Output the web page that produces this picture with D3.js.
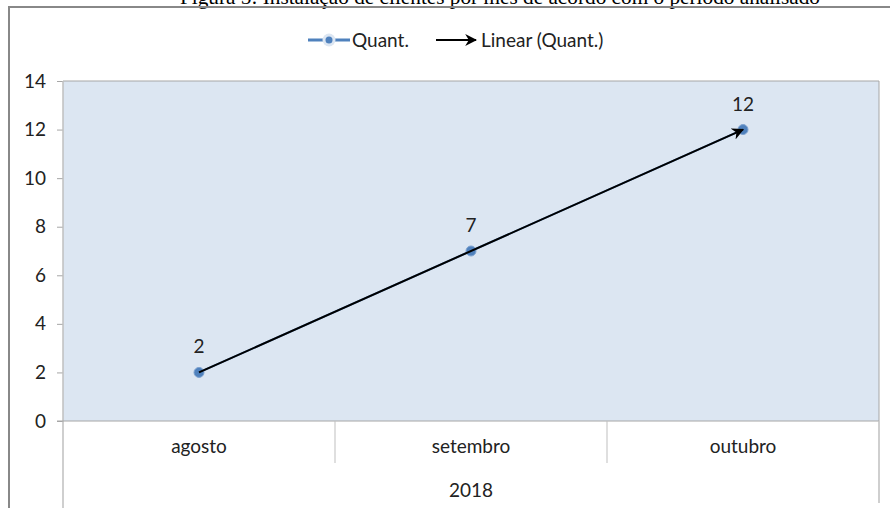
<!DOCTYPE html>
<html><head><meta charset="utf-8">
<script src="https://cdn.jsdelivr.net/npm/d3@7"></script>
<style>body{margin:0;background:#fff}svg{display:block}</style>
</head><body>
<svg id="c" width="890" height="508"></svg>
<script>
const categories = ["agosto", "setembro", "outubro"];
const groupLabel = "2018";
const quant = [2, 7, 12];
const yTicks = [0, 2, 4, 6, 8, 10, 12, 14];
const seriesName = "Quant.";
const trendName = "Linear (Quant.)";
const caption = "Figura 5: Instalação de clientes por mês de acordo com o período analisado";

const svg = d3.select("#c");
const font = "Lato, 'Open Sans', sans-serif";
const fs = 19;
const L = 63, R = 879, T = 81, B = 421;

// caption (clipped at top, as in the source)
svg.append("text").attr("x", 180).attr("y", 4).attr("text-anchor", "start")
  .attr("font-family", "'Liberation Serif', serif").attr("font-size", 21).attr("fill", "#000")
  .attr("textLength", 640).attr("lengthAdjust", "spacingAndGlyphs")
  .text(caption);

// outer chart border
svg.append("path").attr("d", "M9,508 V7 H890").attr("fill", "none").attr("stroke", "#888").attr("stroke-width", 2);

const x = d3.scaleBand().domain(categories).range([L, R]);
const y = d3.scaleLinear().domain([0, 14]).range([B, T]);

// plot area
svg.append("rect").attr("x", L).attr("y", T).attr("width", R - L).attr("height", B - T)
  .attr("fill", "#DCE6F2");
svg.append("path").attr("d", `M${L},${T} H${R} V${B}`).attr("fill", "none").attr("stroke", "#A6A6A6").attr("stroke-width", 1);

// y axis
const ya = svg.append("g").attr("transform", `translate(${L},0)`)
  .call(d3.axisLeft(y).tickValues(yTicks).tickSize(6).tickPadding(11).tickFormat(d3.format("d")));
ya.select(".domain").remove();
ya.selectAll("line").attr("stroke", "#A6A6A6");
ya.selectAll("text").attr("font-family", font).attr("font-size", fs).attr("fill", "#222");
svg.append("line").attr("x1", L).attr("x2", L).attr("y1", T).attr("y2", 508).attr("stroke", "#BFBFBF").attr("stroke-width", 1.5);

// x axis
svg.append("line").attr("x1", L - 6).attr("x2", R).attr("y1", B).attr("y2", B).attr("stroke", "#A6A6A6");
const xa = svg.append("g").attr("transform", `translate(0,${B})`)
  .call(d3.axisBottom(x).tickSize(0).tickPadding(19));
xa.select(".domain").remove();
xa.selectAll("text").attr("font-family", font).attr("font-size", fs).attr("fill", "#222");
categories.slice(1).forEach(c => {
  svg.append("line").attr("x1", x(c)).attr("x2", x(c)).attr("y1", B).attr("y2", 463).attr("stroke", "#BFBFBF");
});
svg.append("line").attr("x1", R).attr("x2", R).attr("y1", B).attr("y2", 503).attr("stroke", "#BFBFBF").attr("stroke-width", 1.5);
svg.append("text").attr("x", (L + R) / 2).attr("y", 497).attr("text-anchor", "middle")
  .attr("font-family", font).attr("font-size", fs).attr("fill", "#222").text(groupLabel);

const cx = c => x(c) + x.bandwidth() / 2;
const pts = categories.map((c, i) => ({c, v: quant[i]}));

// series line
svg.append("path").datum(pts).attr("fill", "none").attr("stroke", "#4F81BD").attr("stroke-width", 2)
  .attr("d", d3.line().x(d => cx(d.c)).y(d => y(d.v)));

// linear trend (least squares)
const n = quant.length, xs = quant.map((_, i) => i + 1);
const mx = d3.mean(xs), my = d3.mean(quant);
const slope = d3.sum(xs.map((xi, i) => (xi - mx) * (quant[i] - my))) / d3.sum(xs.map(xi => (xi - mx) ** 2));
const icpt = my - slope * mx;
const trend = [1, n].map(xi => ({c: categories[xi - 1], v: icpt + slope * xi}));

// markers
svg.selectAll("circle.pt").data(pts).join("circle").attr("class", "pt")
  .attr("cx", d => cx(d.c)).attr("cy", d => y(d.v)).attr("r", 5)
  .attr("fill", "#4F81BD").attr("stroke", "#7FA3D0").attr("stroke-width", 1);

const defs = svg.append("defs");
defs.append("marker").attr("id", "arr").attr("viewBox", "0 0 10 10").attr("refX", 9).attr("refY", 5)
  .attr("markerWidth", 6).attr("markerHeight", 6).attr("markerUnits", "strokeWidth").attr("orient", "auto")
  .append("path").attr("d", "M0,0 L10,5 L0,10 L3,5 Z").attr("fill", "#000");

svg.append("path").datum(trend).attr("fill", "none").attr("stroke", "#000").attr("stroke-width", 2)
  .attr("marker-end", "url(#arr)")
  .attr("d", d3.line().x(d => cx(d.c)).y(d => y(d.v)));

// data labels
svg.selectAll("text.lbl").data(pts).join("text").attr("class", "lbl")
  .attr("x", d => cx(d.c)).attr("y", d => y(d.v) - 19).attr("text-anchor", "middle")
  .attr("font-family", font).attr("font-size", fs).attr("fill", "#222").text(d => d.v);

// legend
const lg = svg.append("g");
lg.append("line").attr("x1", 308).attr("x2", 350).attr("y1", 40).attr("y2", 40).attr("stroke", "#4F81BD").attr("stroke-width", 3);
lg.append("circle").attr("cx", 329).attr("cy", 40).attr("r", 6.5).attr("fill", "#DCE6F2");
lg.append("circle").attr("cx", 329).attr("cy", 40).attr("r", 3.5).attr("fill", "#4F81BD");
lg.append("text").attr("x", 352).attr("y", 47).attr("font-family", font).attr("font-size", fs).attr("fill", "#222").text(seriesName);
lg.append("line").attr("x1", 436).attr("x2", 476).attr("y1", 40).attr("y2", 40).attr("stroke", "#000").attr("stroke-width", 2)
  .attr("marker-end", "url(#arr)");
lg.append("text").attr("x", 481).attr("y", 47).attr("font-family", font).attr("font-size", fs).attr("fill", "#222").text(trendName);
</script>
</body></html>
